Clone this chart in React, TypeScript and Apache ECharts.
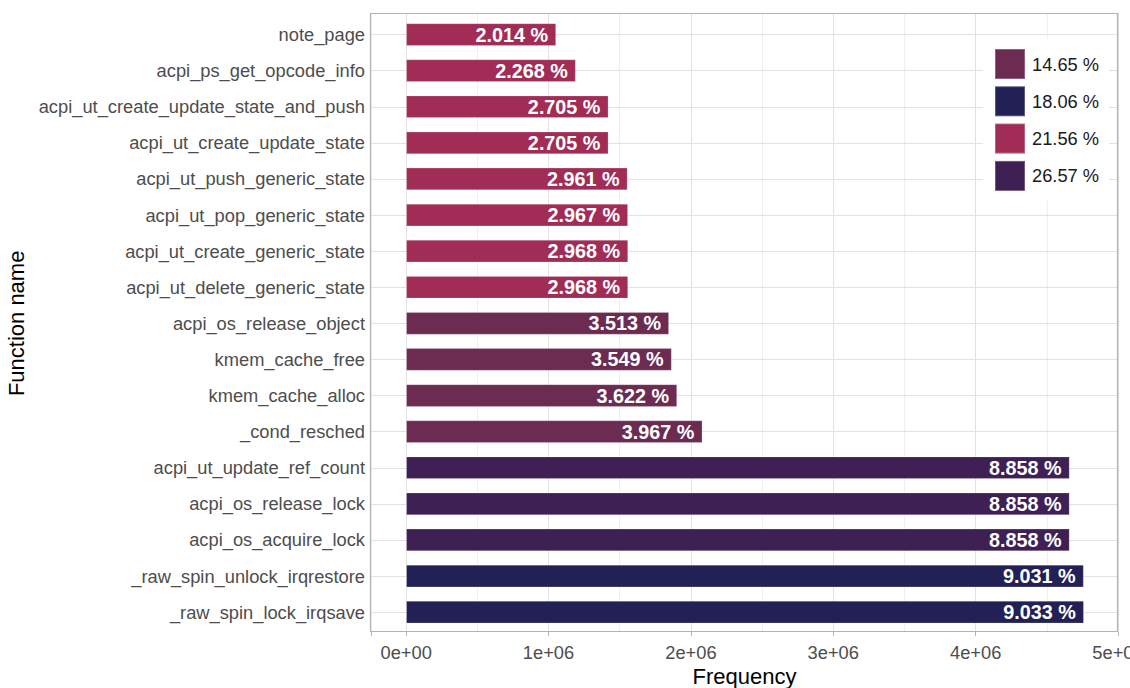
import React, { useEffect, useRef } from "react";
import * as echarts from "echarts";

const functionNames = [
  "note_page",
  "acpi_ps_get_opcode_info",
  "acpi_ut_create_update_state_and_push",
  "acpi_ut_create_update_state",
  "acpi_ut_push_generic_state",
  "acpi_ut_pop_generic_state",
  "acpi_ut_create_generic_state",
  "acpi_ut_delete_generic_state",
  "acpi_os_release_object",
  "kmem_cache_free",
  "kmem_cache_alloc",
  "_cond_resched",
  "acpi_ut_update_ref_count",
  "acpi_os_release_lock",
  "acpi_os_acquire_lock",
  "_raw_spin_unlock_irqrestore",
  "_raw_spin_lock_irqsave",
];

const frequencies = [
  1053000, 1191000, 1421000, 1421000, 1555000, 1558000, 1559000, 1559000,
  1846000, 1865000, 1903000, 2081000, 4660000, 4660000, 4660000, 4759000,
  4760000,
];

const percentLabels = [
  "2.014 %", "2.268 %", "2.705 %", "2.705 %", "2.961 %", "2.967 %", "2.968 %",
  "2.968 %", "3.513 %", "3.549 %", "3.622 %", "3.967 %", "8.858 %", "8.858 %",
  "8.858 %", "9.031 %", "9.033 %",
];

const groupOf = [
  "21.56 %", "21.56 %", "21.56 %", "21.56 %", "21.56 %", "21.56 %", "21.56 %",
  "21.56 %", "14.65 %", "14.65 %", "14.65 %", "14.65 %", "26.57 %", "26.57 %",
  "26.57 %", "18.06 %", "18.06 %",
];

const groupNames = ["14.65 %", "18.06 %", "21.56 %", "26.57 %"];
const groupColors = ["#6c2b51", "#222055", "#a12d56", "#3f2055"];

const X_MIN = -247000;
const X_MAX = 5000000;
const FONT = "Liberation Sans, Arial, Helvetica, sans-serif";
const SMALL = 18.3;

function sciLabel(v: number): string {
  if (v < 0 || Math.abs(v % 1e6) > 1) return "";
  if (v === 0) return "0e+00";
  const exp = Math.floor(Math.log10(v));
  const m = Math.round(v / Math.pow(10, exp));
  return `${m}e+${String(exp).padStart(2, "0")}`;
}

export default function App() {
  const ref = useRef<HTMLDivElement>(null);

  useEffect(() => {
    const chart = echarts.init(ref.current!, null, { renderer: "svg" });

    const groupSeries = groupNames.map((g, gi) => ({
      type: "bar",
      name: g,
      xAxisIndex: 0,
      yAxisIndex: 0,
      barWidth: 22.5,
      barGap: "-100%",
      z: 3,
      itemStyle: {
        color: groupColors[gi],
        borderColor: "rgba(255,255,255,0.25)",
        borderWidth: 0.8,
      },
      label: {
        show: true,
        position: "insideRight",
        distance: 8,
        color: "#ffffff",
        fontWeight: "bold",
        fontSize: 19.8,
        fontFamily: FONT,
        formatter: (p: any) => percentLabels[p.dataIndex],
      },
      data: frequencies.map((v, i) => (groupOf[i] === g ? v : "-")),
    }));

    const option: any = {
      animation: false,
      textStyle: { fontFamily: FONT },
      grid: [
        { left: 371, right: 12, top: 16.5, bottom: 57.8, outerBoundsMode: "none", containLabel: false },
        { left: 371, right: 12, top: 13, bottom: 56, outerBoundsMode: "none", containLabel: false },
      ],
      legend: {
        data: groupNames,
        orient: "vertical",
        left: 983,
        top: 39,
        padding: [9, 10, 9, 11],
        itemWidth: 30,
        itemHeight: 30,
        itemGap: 5.3,
        backgroundColor: "#ffffff",
        icon: "rect",
        selectedMode: false,
        textStyle: {
          fontSize: SMALL,
          color: "#1a1a1a",
          fontFamily: FONT,
          padding: [0, 0, 0, 2],
        },
      },
      xAxis: [
        {
          type: "value",
          gridIndex: 0,
          min: X_MIN,
          max: X_MAX,
          show: false,
        },
        {
          type: "value",
          gridIndex: 1,
          min: X_MIN,
          max: X_MAX,
          splitNumber: 10,
          axisLine: { show: false },
          axisTick: { show: false },
          axisLabel: { show: false },
          splitLine: {
            show: true,
            lineStyle: { color: ["#efefef", "#e2e2e2"], width: 1 },
          },
        },
        {
          type: "value",
          gridIndex: 1,
          position: "bottom",
          min: X_MIN,
          max: X_MAX,
          splitNumber: 5,
          axisLine: { show: false },
          axisTick: {
            show: true,
            length: 4,
            lineStyle: { color: "#b3b3b3" },
          },
          axisLabel: {
            color: "#4d4d4d",
            fontSize: SMALL,
            fontFamily: FONT,
            margin: 11,
            showMinLabel: true,
            showMaxLabel: true,
            formatter: sciLabel,
          },
          splitLine: { show: false },
          name: "Frequency",
          nameLocation: "middle",
          nameGap: 23,
          nameTextStyle: { fontSize: 22, color: "#000000", fontFamily: FONT },
        },
      ],
      yAxis: [
        {
          type: "category",
          gridIndex: 0,
          data: functionNames,
          inverse: true,
          axisLine: { show: false },
          axisTick: {
            show: true,
            alignWithLabel: true,
            length: 4,
            lineStyle: { color: "#b3b3b3" },
          },
          axisLabel: {
            color: "#4d4d4d",
            fontSize: SMALL,
            fontFamily: FONT,
            margin: 6,
          },
          splitLine: { show: false },
          name: "Function name",
          nameLocation: "middle",
          nameGap: 341,
          nameTextStyle: { fontSize: 22, color: "#000000", fontFamily: FONT },
        },
        { type: "value", gridIndex: 1, show: false },
      ],
      graphic: [
        {
          type: "rect",
          z: 100,
          silent: true,
          shape: { x: 370.5, y: 13.5, width: 747, height: 618 },
          style: { fill: "none", stroke: "#b3b3b3", lineWidth: 1.2 },
        },
      ],
      series: [
        {
          type: "line",
          name: "hgrid",
          xAxisIndex: 0,
          yAxisIndex: 0,
          data: [],
          silent: true,
          markLine: {
            silent: true,
            z: 1,
            symbol: ["none", "none"],
            label: { show: false },
            lineStyle: { color: "#e2e2e2", width: 1, type: "solid" },
            data: functionNames.map((n) => ({ yAxis: n })),
          },
        },
        ...groupSeries,
      ],
    };

    chart.setOption(option);
    return () => chart.dispose();
  }, []);

  return (
    <div
      ref={ref}
      style={{ position: "absolute", left: 0, top: 0, width: 1130, height: 688 }}
    />
  );
}
